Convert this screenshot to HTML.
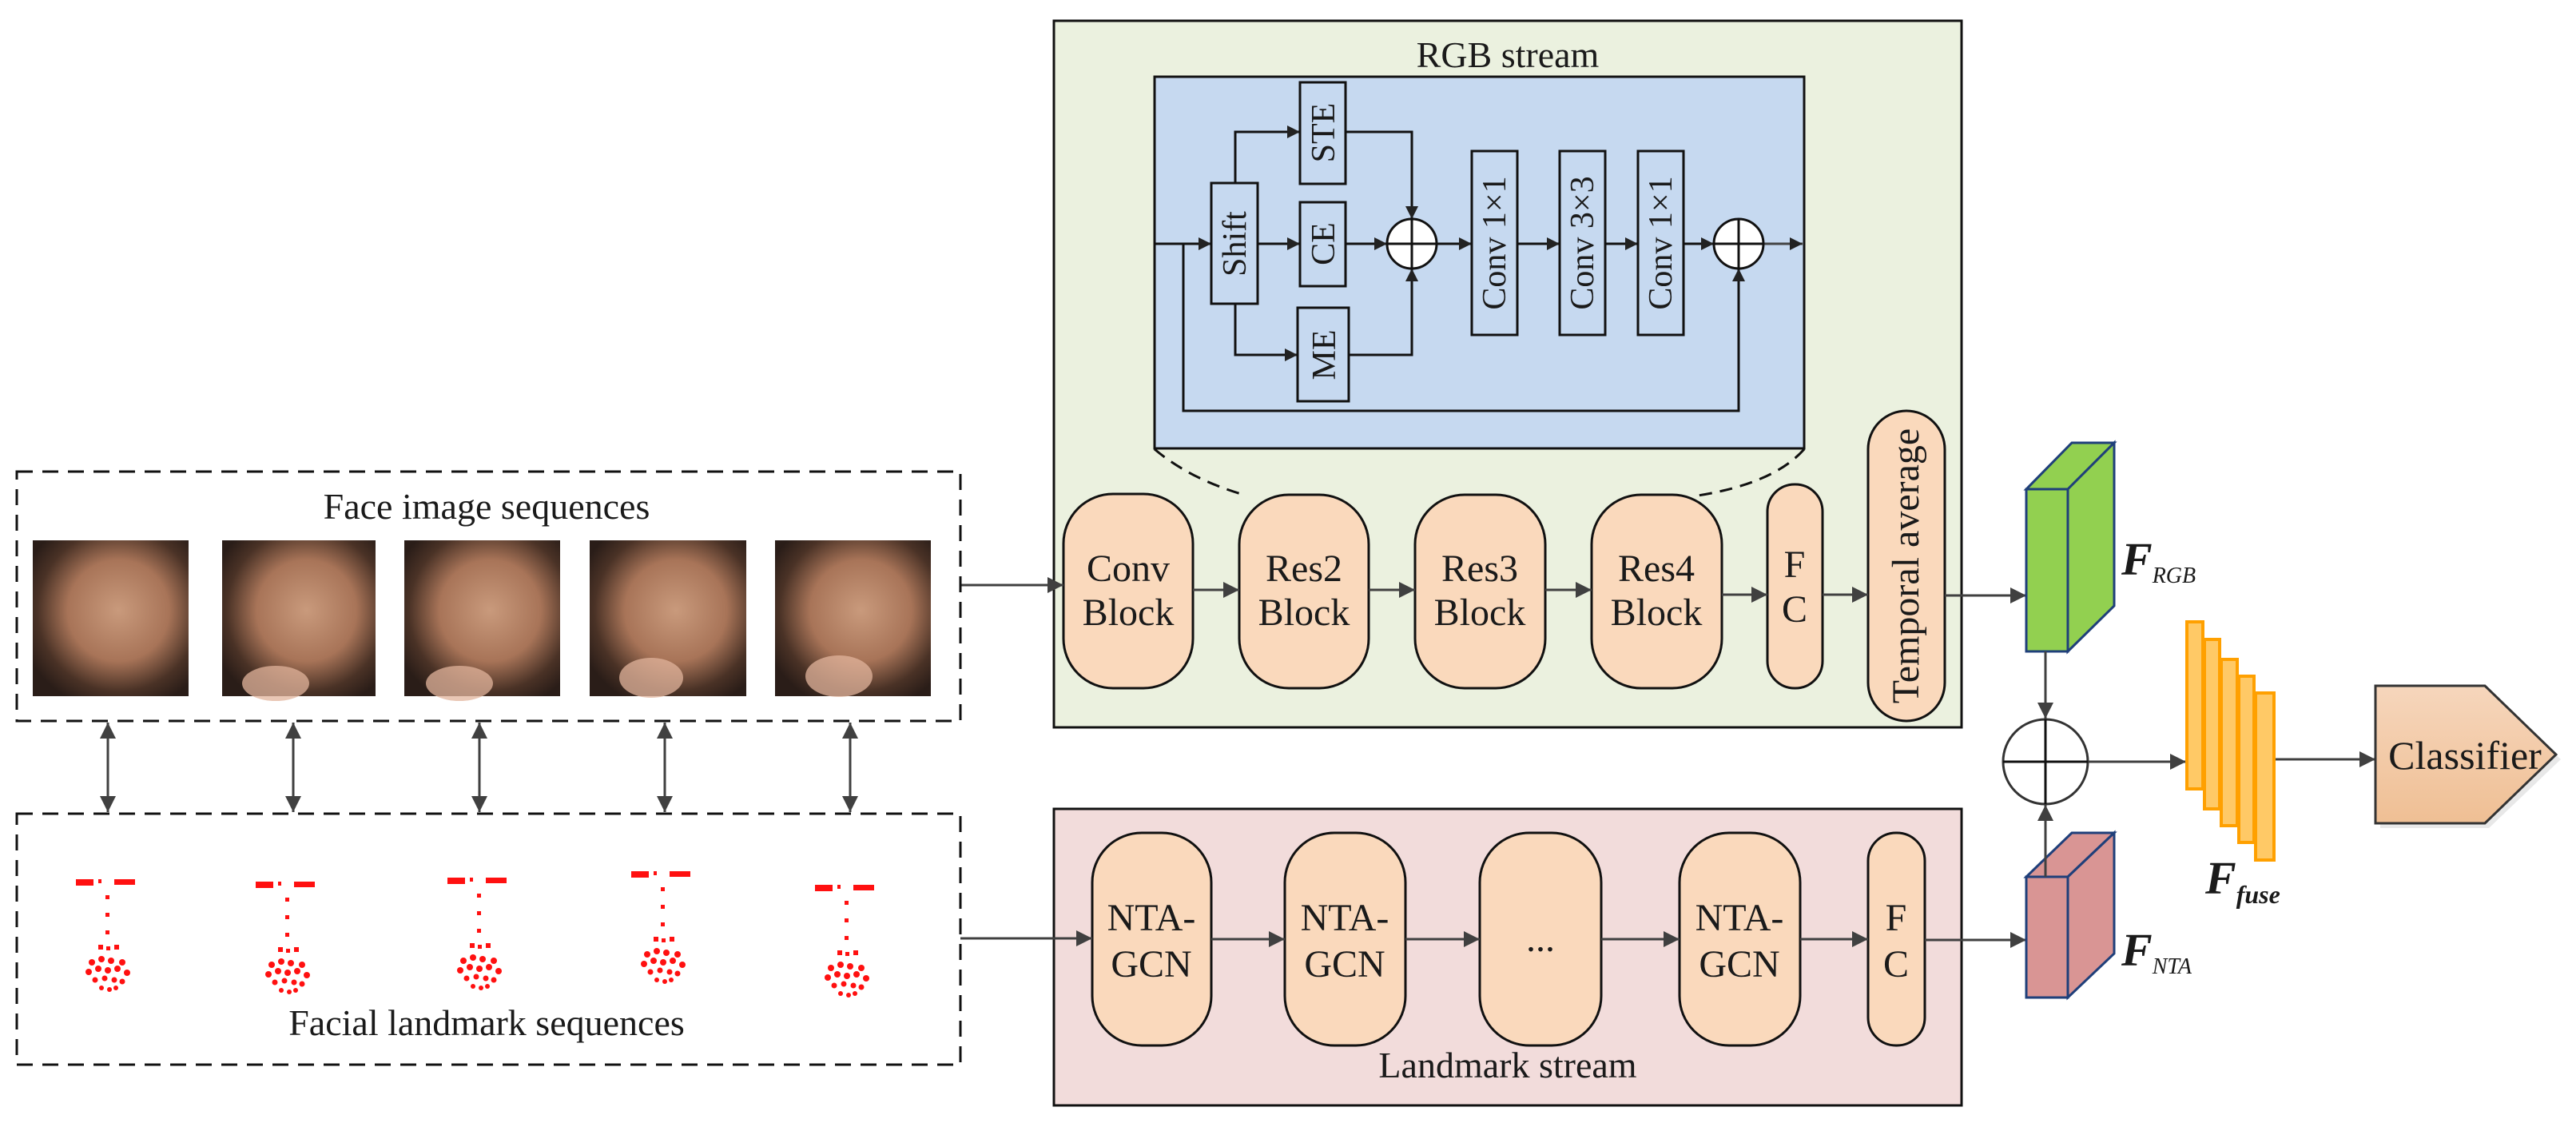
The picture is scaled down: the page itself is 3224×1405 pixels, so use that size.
<!DOCTYPE html>
<html><head><meta charset="utf-8"><style>
html,body{margin:0;padding:0;background:#fff}
svg{display:block}
svg text{font-family:"Liberation Serif","DejaVu Serif",serif;fill:#1a1a1a}
</style></head><body>
<svg width="3224" height="1405" viewBox="0 0 3224 1405" xmlns="http://www.w3.org/2000/svg" font-family="Liberation Serif, DejaVu Serif, serif">
<defs>
<marker id="b" viewBox="0 0 10 10" refX="10" refY="5" markerWidth="24" markerHeight="20" markerUnits="userSpaceOnUse" orient="auto-start-reverse"><path d="M0,0 L10,5 L0,10 z" fill="#404040"/></marker>
<marker id="s" viewBox="0 0 10 10" refX="10" refY="5" markerWidth="18" markerHeight="16" markerUnits="userSpaceOnUse" orient="auto"><path d="M0,0 L10,5 L0,10 z" fill="#222"/></marker>
<radialGradient id="face" cx="0.55" cy="0.45" r="0.65">
<stop offset="0" stop-color="#c99a7c"/><stop offset="0.5" stop-color="#a87458"/><stop offset="0.8" stop-color="#4a3226"/><stop offset="1" stop-color="#2a1d18"/></radialGradient>
<linearGradient id="cls" x1="0" y1="0" x2="0" y2="1"><stop offset="0" stop-color="#f6d6bc"/><stop offset="1" stop-color="#efbf94"/></linearGradient>
<g id="lm" fill="#ff1010">
<rect x="-40" y="0" width="22" height="8"/><rect x="-12" y="0" width="4" height="5"/><rect x="8" y="0" width="26" height="7"/>
<rect x="-3" y="20" width="5" height="5"/><rect x="-3" y="42" width="5" height="5"/><rect x="-3" y="64" width="5" height="5"/>
<rect x="-12" y="82" width="6" height="6"/><rect x="-2" y="84" width="5" height="5"/><rect x="8" y="82" width="6" height="6"/>
<circle cx="-20" cy="104" r="4"/><circle cx="-8" cy="100" r="4"/><circle cx="4" cy="102" r="4"/><circle cx="18" cy="104" r="4"/>
<circle cx="-24" cy="116" r="4"/><circle cx="-12" cy="112" r="4"/><circle cx="0" cy="114" r="4"/><circle cx="12" cy="112" r="4"/><circle cx="24" cy="117" r="4"/>
<circle cx="-16" cy="126" r="3.5"/><circle cx="-4" cy="124" r="3.5"/><circle cx="8" cy="126" r="3.5"/><circle cx="18" cy="128" r="3.5"/>
<circle cx="-8" cy="136" r="3"/><circle cx="2" cy="138" r="3"/><circle cx="10" cy="136" r="3"/>
</g>
</defs>

<!-- RGB stream -->
<rect x="1319" y="26" width="1136" height="884" fill="#ebf1df" stroke="#111" stroke-width="3"/>
<text x="1887" y="84" font-size="46" text-anchor="middle">RGB stream</text>
<rect x="1445" y="96" width="813" height="465" fill="#c6d9f0" stroke="#111" stroke-width="3"/>

<g stroke="#111" stroke-width="3" fill="none">
<line x1="1445" y1="305" x2="1516" y2="305" marker-end="url(#s)"/>
<polyline points="1546,229 1546,165 1627,165" marker-end="url(#s)"/>
<polyline points="1546,380 1546,444 1624,444" marker-end="url(#s)"/>
<line x1="1574" y1="305" x2="1627" y2="305" marker-end="url(#s)"/>
<line x1="1684" y1="305" x2="1736" y2="305" marker-end="url(#s)"/>
<polyline points="1684,165 1767,165 1767,274" marker-end="url(#s)"/>
<polyline points="1688,444 1767,444 1767,336" marker-end="url(#s)"/>
<line x1="1798" y1="305" x2="1842" y2="305" marker-end="url(#s)"/>
<line x1="1899" y1="305" x2="1952" y2="305" marker-end="url(#s)"/>
<line x1="2009" y1="305" x2="2050" y2="305" marker-end="url(#s)"/>
<line x1="2107" y1="305" x2="2145" y2="305" marker-end="url(#s)"/>
<polyline points="1481,305 1481,514 2176,514 2176,336" marker-end="url(#s)"/>
<line x1="2207" y1="305" x2="2256" y2="305" stroke="#444" marker-end="url(#s)"/>
</g>
<g fill="#c6d9f0" stroke="#111" stroke-width="3">
<rect x="1516" y="229" width="58" height="151"/>
<rect x="1627" y="103" width="57" height="127"/>
<rect x="1627" y="253" width="57" height="105"/>
<rect x="1624" y="385" width="64" height="117"/>
<rect x="1842" y="189" width="57" height="230"/>
<rect x="1952" y="189" width="57" height="230"/>
<rect x="2050" y="189" width="57" height="230"/>
</g>
<g fill="#fff" stroke="#111" stroke-width="3">
<circle cx="1767" cy="305" r="31"/><circle cx="2176" cy="305" r="31"/>
</g>
<g stroke="#111" stroke-width="3">
<line x1="1736" y1="305" x2="1798" y2="305"/><line x1="1767" y1="274" x2="1767" y2="336"/>
<line x1="2145" y1="305" x2="2207" y2="305"/><line x1="2176" y1="274" x2="2176" y2="336"/>
</g>
<g font-size="42" text-anchor="middle">
<text transform="translate(1559,305) rotate(-90)">Shift</text>
<text transform="translate(1670,166) rotate(-90)">STE</text>
<text transform="translate(1670,305) rotate(-90)">CE</text>
<text transform="translate(1671,444) rotate(-90)">ME</text>
<text transform="translate(1884,304) rotate(-90)">Conv 1×1</text>
<text transform="translate(1994,304) rotate(-90)">Conv 3×3</text>
<text transform="translate(2092,304) rotate(-90)">Conv 1×1</text>
</g>
<g stroke="#111" stroke-width="3" fill="none" stroke-dasharray="16,10">
<path d="M1445,562 Q1490,600 1560,620"/>
<path d="M2258,562 Q2220,605 2125,620"/>
</g>

<!-- RGB blocks -->
<g fill="#fad9bc" stroke="#111" stroke-width="3">
<rect x="1331" y="618" width="162" height="243" rx="62"/>
<rect x="1551" y="619" width="162" height="242" rx="62"/>
<rect x="1771" y="619" width="163" height="242" rx="62"/>
<rect x="1992" y="619" width="163" height="242" rx="62"/>
<rect x="2212" y="606" width="69" height="255" rx="34"/>
<rect x="2338" y="514" width="96" height="388" rx="48"/>
</g>
<g font-size="48" text-anchor="middle">
<text x="1412" y="727">Conv</text><text x="1412" y="782">Block</text>
<text x="1632" y="727">Res2</text><text x="1632" y="782">Block</text>
<text x="1852" y="727">Res3</text><text x="1852" y="782">Block</text>
<text x="2073" y="727">Res4</text><text x="2073" y="782">Block</text>
<text x="2246" y="722">F</text><text x="2246" y="778">C</text>
<text transform="translate(2401,708) rotate(-90)">Temporal average</text>
</g>
<g stroke="#404040" stroke-width="3">
<line x1="1493" y1="738" x2="1551" y2="738" marker-end="url(#b)"/>
<line x1="1713" y1="738" x2="1771" y2="738" marker-end="url(#b)"/>
<line x1="1934" y1="738" x2="1992" y2="738" marker-end="url(#b)"/>
<line x1="2155" y1="744" x2="2212" y2="744" marker-end="url(#b)"/>
<line x1="2281" y1="744" x2="2338" y2="744" marker-end="url(#b)"/>
<line x1="2434" y1="745" x2="2536" y2="745" marker-end="url(#b)"/>
<line x1="1202" y1="732" x2="1331" y2="732" marker-end="url(#b)"/>
</g>

<!-- Landmark stream -->
<rect x="1319" y="1012" width="1136" height="371" fill="#f2dcdb" stroke="#111" stroke-width="3"/>
<text x="1887" y="1348" font-size="46" text-anchor="middle">Landmark stream</text>
<g fill="#fad9bc" stroke="#111" stroke-width="3">
<rect x="1367" y="1042" width="149" height="266" rx="62"/>
<rect x="1608" y="1042" width="151" height="266" rx="62"/>
<rect x="1852" y="1042" width="152" height="266" rx="62"/>
<rect x="2102" y="1042" width="151" height="266" rx="62"/>
<rect x="2338" y="1042" width="71" height="266" rx="35"/>
</g>
<g font-size="48" text-anchor="middle">
<text x="1441" y="1164">NTA-</text><text x="1441" y="1222">GCN</text>
<text x="1683" y="1164">NTA-</text><text x="1683" y="1222">GCN</text>
<text x="1928" y="1190">...</text>
<text x="2177" y="1164">NTA-</text><text x="2177" y="1222">GCN</text>
<text x="2373" y="1164">F</text><text x="2373" y="1222">C</text>
</g>
<g stroke="#404040" stroke-width="3">
<line x1="1202" y1="1174" x2="1367" y2="1174" marker-end="url(#b)"/>
<line x1="1516" y1="1175" x2="1608" y2="1175" marker-end="url(#b)"/>
<line x1="1759" y1="1175" x2="1852" y2="1175" marker-end="url(#b)"/>
<line x1="2004" y1="1175" x2="2102" y2="1175" marker-end="url(#b)"/>
<line x1="2253" y1="1175" x2="2338" y2="1175" marker-end="url(#b)"/>
<line x1="2409" y1="1176" x2="2536" y2="1176" marker-end="url(#b)"/>
</g>

<!-- Face box -->
<g stroke="#111" stroke-width="3" fill="none" stroke-dasharray="20,12">
<rect x="21" y="590" width="1181" height="312"/>
<rect x="21" y="1018" width="1181" height="314"/>
</g>
<text x="609" y="649" font-size="46" text-anchor="middle">Face image sequences</text>
<text x="609" y="1295" font-size="46" text-anchor="middle">Facial landmark sequences</text>
<g>
<rect x="41" y="676" width="195" height="195" fill="url(#face)"/>
<rect x="278" y="676" width="192" height="195" fill="url(#face)"/>
<rect x="506" y="676" width="195" height="195" fill="url(#face)"/>
<rect x="738" y="676" width="196" height="195" fill="url(#face)"/>
<rect x="970" y="676" width="195" height="195" fill="url(#face)"/>
</g>
<g fill="#e2b49c" opacity="0.75">
<ellipse cx="345" cy="855" rx="42" ry="22"/><ellipse cx="575" cy="855" rx="42" ry="22"/>
<ellipse cx="815" cy="848" rx="40" ry="25"/><ellipse cx="1050" cy="846" rx="42" ry="26"/>
</g>
<g stroke="#404040" stroke-width="3">
<line x1="135" y1="904" x2="135" y2="1016" marker-start="url(#b)" marker-end="url(#b)"/>
<line x1="367" y1="904" x2="367" y2="1016" marker-start="url(#b)" marker-end="url(#b)"/>
<line x1="600" y1="904" x2="600" y2="1016" marker-start="url(#b)" marker-end="url(#b)"/>
<line x1="832" y1="904" x2="832" y2="1016" marker-start="url(#b)" marker-end="url(#b)"/>
<line x1="1064" y1="904" x2="1064" y2="1016" marker-start="url(#b)" marker-end="url(#b)"/>
</g>
<use href="#lm" x="135" y="1100"/>
<use href="#lm" x="360" y="1103"/>
<use href="#lm" x="600" y="1098"/>
<use href="#lm" x="830" y="1090"/>
<use href="#lm" x="1060" y="1107"/>

<!-- Features -->
<polygon points="2536,612 2593,554 2646,554 2588,612" fill="#92d050" stroke="#1f3f7a" stroke-width="3"/>
<polygon points="2588,612 2646,554 2646,758 2588,815" fill="#92d050" stroke="#1f3f7a" stroke-width="3"/>
<rect x="2536" y="612" width="52" height="203" fill="#92d050" stroke="#1f3f7a" stroke-width="3"/>
<polygon points="2536,1097 2593,1042 2646,1042 2588,1097" fill="#d99594" stroke="#1f3f7a" stroke-width="3"/>
<polygon points="2588,1097 2646,1042 2646,1193 2588,1248" fill="#d99594" stroke="#1f3f7a" stroke-width="3"/>
<rect x="2536" y="1097" width="52" height="151" fill="#d99594" stroke="#1f3f7a" stroke-width="3"/>
<g stroke="#404040" stroke-width="3">
<line x1="2560" y1="815" x2="2560" y2="899" marker-end="url(#b)"/>
<line x1="2560" y1="1097" x2="2560" y2="1007" marker-end="url(#b)"/>
<line x1="2613" y1="953" x2="2736" y2="953" marker-end="url(#b)"/>
<line x1="2846" y1="950" x2="2973" y2="950" marker-end="url(#b)"/>
</g>
<circle cx="2560" cy="953" r="53" fill="#fff" stroke="#333" stroke-width="3"/>
<g stroke="#111" stroke-width="3"><line x1="2507" y1="953" x2="2613" y2="953"/><line x1="2560" y1="900" x2="2560" y2="1006"/></g>
<g fill="#ffc966" stroke="#ffa000" stroke-width="4">
<rect x="2737" y="778" width="20" height="209"/>
<rect x="2759" y="800" width="19" height="212"/>
<rect x="2780" y="825" width="20" height="208"/>
<rect x="2802" y="846" width="19" height="208"/>
<rect x="2823" y="867" width="23" height="209"/>
</g>
<text x="2655" y="719" font-size="58" font-weight="bold" font-style="italic" fill="#000">F<tspan font-size="28" font-weight="normal" dy="10">RGB</tspan></text>
<text x="2655" y="1208" font-size="58" font-weight="bold" font-style="italic" fill="#000">F<tspan font-size="28" font-weight="normal" dy="10">NTA</tspan></text>
<text x="2760" y="1118" font-size="58" font-weight="bold" font-style="italic" fill="#000">F<tspan font-size="32" font-weight="bold" dy="12">fuse</tspan></text>
<polygon points="2975,860 3111,860 3201,945 3111,1031 2975,1031" fill="#d8d8d8" transform="translate(4,5)" opacity="0.6"/>
<polygon points="2973,858 3110,858 3199,944 3110,1030 2973,1030" fill="url(#cls)" stroke="#333" stroke-width="3"/>
<text x="3085" y="962" font-size="50" text-anchor="middle">Classifier</text>
</svg>
</body></html>
